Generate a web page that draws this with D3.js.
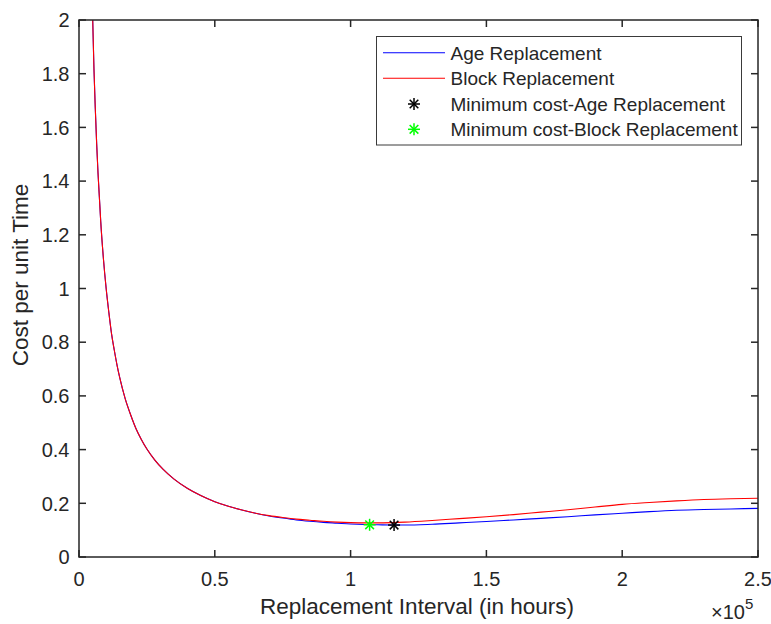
<!DOCTYPE html>
<html>
<head>
<meta charset="utf-8">
<script src="https://cdn.jsdelivr.net/npm/d3@7"></script>
<style>
  html, body { margin: 0; padding: 0; background: #fff; }
  svg { display: block; }
  text { font-family: "Liberation Sans", Arial, Helvetica, sans-serif; fill: #262626; }
</style>
</head>
<body>
<svg id="chart" width="771" height="624"></svg>
<script>
// ---- Data ----
const intervals = [5000, 5500, 6000, 6500, 7000, 7500, 8000, 9000, 10000, 11000, 12000, 13000, 14000, 15000,
  17000, 19000, 21000, 23000, 25000, 28000, 31000, 35000, 40000, 45000, 50000, 55000, 60000, 65000, 70000,
  75000, 80000, 85000, 90000, 95000, 100000, 105000, 110000, 115000, 120000, 130000, 140000, 150000,
  160000, 170000, 180000, 190000, 200000, 210000, 220000, 230000, 240000, 250000];
const ageCost = [2.02, 1.82, 1.67, 1.54, 1.43, 1.34, 1.25, 1.11, 1.0, 0.91, 0.83, 0.77, 0.715, 0.668,
  0.59, 0.53, 0.478, 0.437, 0.402, 0.36, 0.326, 0.29, 0.255, 0.228, 0.206, 0.189, 0.175, 0.163, 0.153,
  0.145, 0.138, 0.133, 0.129, 0.126, 0.123, 0.121, 0.12, 0.119, 0.119, 0.122, 0.127, 0.132,
  0.138, 0.144, 0.150, 0.157, 0.163, 0.169, 0.174, 0.177, 0.179, 0.181];
const blockCost = [2.02, 1.82, 1.67, 1.54, 1.43, 1.34, 1.25, 1.11, 1.0, 0.91, 0.83, 0.77, 0.715, 0.668,
  0.59, 0.53, 0.478, 0.437, 0.402, 0.36, 0.326, 0.29, 0.255, 0.228, 0.206, 0.189, 0.175, 0.163, 0.154,
  0.147, 0.141, 0.137, 0.133, 0.13, 0.128, 0.127, 0.127, 0.128, 0.13, 0.136, 0.143, 0.150,
  0.158, 0.167, 0.176, 0.186, 0.196, 0.203, 0.209, 0.214, 0.217, 0.219];
const minAge = [116000, 0.119];
const minBlock = [107000, 0.12];
const xTicks = [0, 50000, 100000, 150000, 200000, 250000];
const xTickLabels = ["0", "0.5", "1", "1.5", "2", "2.5"];
const yTicks = [0, 0.2, 0.4, 0.6, 0.8, 1, 1.2, 1.4, 1.6, 1.8, 2];
const yTickLabels = ["0", "0.2", "0.4", "0.6", "0.8", "1", "1.2", "1.4", "1.6", "1.8", "2"];
const legendLabels = ["Age Replacement", "Block Replacement", "Minimum cost-Age Replacement", "Minimum cost-Block Replacement"];
const xLabel = "Replacement Interval (in hours)";
const yLabel = "Cost per unit Time";

// ---- Layout ----
const L = 79, R = 758, T = 20, B = 557;
const axisColor = "#262626";
const svg = d3.select("#chart");
const x = d3.scaleLinear().domain([0, 250000]).range([L, R]);
const y = d3.scaleLinear().domain([0, 2]).range([B, T]);

svg.append("defs").append("clipPath").attr("id", "clip")
  .append("rect").attr("x", L).attr("y", T).attr("width", R - L).attr("height", B - T);

// Curves
const lineGen = vals => d3.line()
  .x((d, i) => x(intervals[i]))
  .y(d => y(d))
  .curve(d3.curveMonotoneX)(vals);

const plot = svg.append("g").attr("clip-path", "url(#clip)");
plot.append("path").attr("d", lineGen(ageCost)).attr("fill", "none")
  .attr("stroke", "#0000ff").attr("stroke-width", 1.1);
plot.append("path").attr("d", lineGen(blockCost)).attr("fill", "none")
  .attr("stroke", "#ff0000").attr("stroke-width", 1.1);

// Asterisk marker
function star(g, cx, cy, color, r) {
  const d = r * 0.72;
  const segs = [[-r, 0, r, 0], [0, -r, 0, r], [-d, -d, d, d], [-d, d, d, -d]];
  segs.forEach(s => g.append("line")
    .attr("x1", cx + s[0]).attr("y1", cy + s[1]).attr("x2", cx + s[2]).attr("y2", cy + s[3])
    .attr("stroke", color).attr("stroke-width", 1.5));
}
star(svg, x(minBlock[0]), y(minBlock[1]), "#00ff00", 6);
star(svg, x(minAge[0]), y(minAge[1]), "#000000", 6);

// Axes box
svg.append("rect").attr("x", L).attr("y", T).attr("width", R - L).attr("height", B - T)
  .attr("fill", "none").attr("stroke", axisColor).attr("stroke-width", 1.5);

const tickLen = 7;
const ax = svg.append("g");
xTicks.forEach((t, i) => {
  const px = x(t);
  ax.append("line").attr("x1", px).attr("x2", px).attr("y1", B).attr("y2", B - tickLen)
    .attr("stroke", axisColor).attr("stroke-width", 1.5);
  ax.append("line").attr("x1", px).attr("x2", px).attr("y1", T).attr("y2", T + tickLen)
    .attr("stroke", axisColor).attr("stroke-width", 1.5);
  ax.append("text").attr("x", px).attr("y", 586).attr("text-anchor", "middle")
    .attr("font-size", 20).text(xTickLabels[i]);
});
yTicks.forEach((t, i) => {
  const py = y(t);
  ax.append("line").attr("x1", L).attr("x2", L + tickLen).attr("y1", py).attr("y2", py)
    .attr("stroke", axisColor).attr("stroke-width", 1.5);
  ax.append("line").attr("x1", R).attr("x2", R - tickLen).attr("y1", py).attr("y2", py)
    .attr("stroke", axisColor).attr("stroke-width", 1.5);
  ax.append("text").attr("x", 69.5).attr("y", py).attr("dy", "0.36em").attr("text-anchor", "end")
    .attr("font-size", 20).text(yTickLabels[i]);
});

// Exponent label
const expo = svg.append("text").attr("x", 711).attr("y", 619).attr("font-size", 20);
expo.append("tspan").text("\u00d710");
expo.append("tspan").attr("dy", -10).attr("font-size", 15).text("5");

// Axis labels
svg.append("text").attr("x", 417).attr("y", 614).attr("text-anchor", "middle")
  .attr("font-size", 22.5).text(xLabel);
svg.append("text").attr("transform", "translate(28,275) rotate(-90)").attr("text-anchor", "middle")
  .attr("font-size", 22.5).text(yLabel);

// Legend
const lg = svg.append("g");
lg.append("rect").attr("x", 376.5).attr("y", 36.5).attr("width", 365).attr("height", 108.5)
  .attr("fill", "#fff").attr("stroke", "#3a3a3a").attr("stroke-width", 1);
const rowY = [52.7, 78.3, 104, 129.3];
lg.append("line").attr("x1", 383).attr("x2", 445).attr("y1", rowY[0]).attr("y2", rowY[0])
  .attr("stroke", "#0000ff").attr("stroke-width", 1.1);
lg.append("line").attr("x1", 383).attr("x2", 445).attr("y1", rowY[1]).attr("y2", rowY[1])
  .attr("stroke", "#ff0000").attr("stroke-width", 1.1);
star(lg, 414, rowY[2], "#000000", 6);
star(lg, 414, rowY[3], "#00ff00", 6);
legendLabels.forEach((lab, i) => {
  lg.append("text").attr("x", 450.5).attr("y", rowY[i]).attr("dy", "0.36em")
    .attr("font-size", 19).text(lab);
});
</script>
</body>
</html>
